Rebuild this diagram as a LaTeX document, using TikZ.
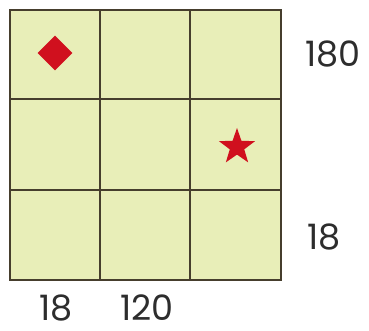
\documentclass[tikz,border=0pt]{standalone}
\usepackage{fontspec}
\setmainfont{Poppins}
\usetikzlibrary{shapes.geometric}
\definecolor{cellfill}{RGB}{232,238,184}
\definecolor{gridline}{RGB}{70,62,45}
\definecolor{markred}{RGB}{208,16,30}
\definecolor{labelgray}{RGB}{45,45,45}
\tikzset{
  gridbox/.style={draw=gridline, line width=1.8pt, fill=cellfill},
  gridln/.style={draw=gridline, line width=1.8pt},
  marker/.style={fill=markred, draw=none, inner sep=0pt},
  numlabel/.style={text=labelgray, inner sep=0pt, anchor=base, font=\fontsize{35}{35}\selectfont}
}
\begin{document}
\begin{tikzpicture}[x=1pt,y=-1pt]
\useasboundingbox (0,0) rectangle (369,331);
\path[gridbox] (10,10) rectangle (281,280);
\draw[gridln] (100,10) -- (100,280);
\draw[gridln] (190,10) -- (190,280);
\draw[gridln] (10,99) -- (281,99);
\draw[gridln] (10,190) -- (281,190);
\node[marker, diamond, minimum size=35pt] (dia) at (55,53) {};
\node[marker, star, star points=5, star point ratio=2.5, minimum size=38pt] (st) at (237,147) {};
\node[numlabel] (r1) at (333,67) {180};
\node[numlabel] (r3) at (324,249) {18};
\node[numlabel] (b1) at (56,320) {18};
\node[numlabel] (b2) at (147,320) {120};
\end{tikzpicture}
\end{document}
